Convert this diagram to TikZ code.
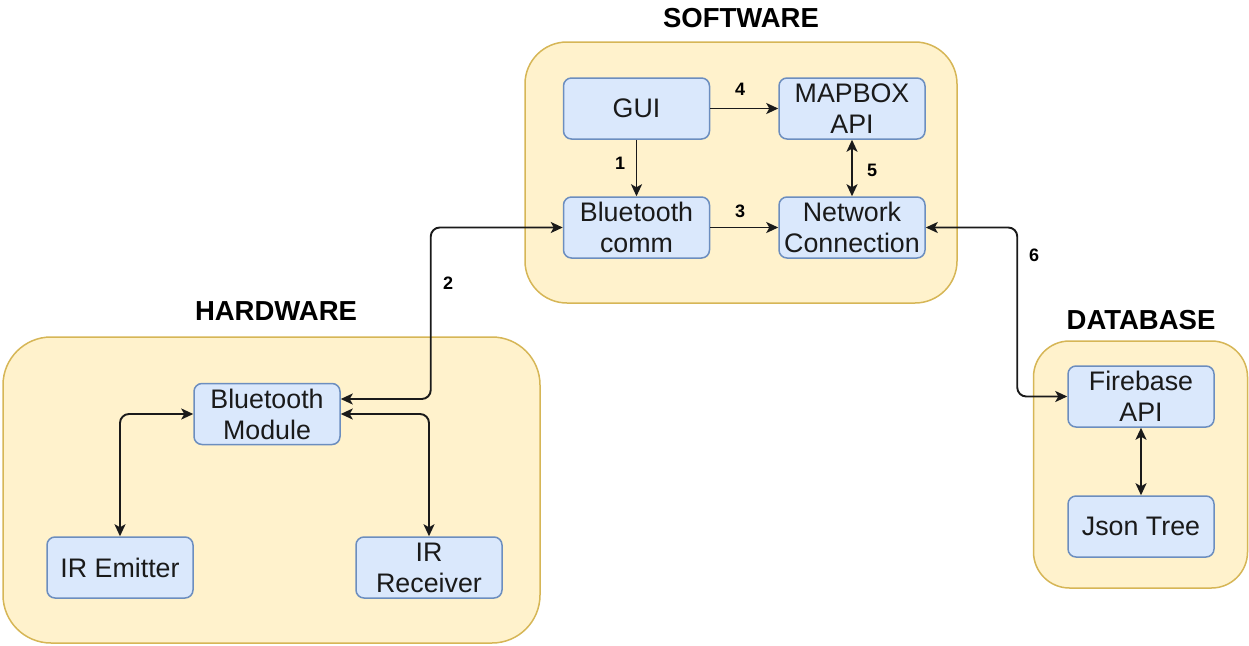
\documentclass[tikz,border=0pt]{standalone}
\usepackage{fontspec}
\setmainfont{Liberation Sans}
\usetikzlibrary{arrows.meta,calc}
\definecolor{groupfill}{HTML}{FFF2CC}
\definecolor{groupline}{HTML}{D6B656}
\definecolor{boxfill}{HTML}{DAE8FC}
\definecolor{boxline}{HTML}{6C8EBF}
\definecolor{ink}{HTML}{1A1A1A}
\tikzset{
  group/.style={draw=groupline, fill=groupfill, line width=1.5pt, rounded corners=42pt, inner sep=0pt},
  block/.style={draw=boxline, fill=boxfill, line width=1.5pt, rounded corners=8pt,
    minimum width=146pt, minimum height=61pt, inner sep=0pt, align=center, text=ink,
    font=\fontsize{26.8}{31}\selectfont},
  grouptitle/.style={font=\fontsize{27.5}{30}\selectfont\bfseries, text=black},
  num/.style={font=\fontsize{18}{20}\selectfont\bfseries, text=black},
  link/.style={draw=ink, line width=1.9pt, rounded corners=9pt, -{Stealth[length=12pt,width=11pt,inset=3pt]}},
  duplex/.style={draw=ink, line width=1.9pt, rounded corners=9pt, {Stealth[length=12pt,width=11pt,inset=3pt]}-{Stealth[length=12pt,width=11pt,inset=3pt]}}
}
\begin{document}
\begin{tikzpicture}[x=1pt,y=-1pt]
\useasboundingbox (0,0) rectangle (1249,645);

% group panels
\node[group, minimum width=432pt, minimum height=261pt] (sw) at (741,172.5) {};
\node[group, minimum width=537pt, minimum height=306pt, rounded corners=48pt] (hw) at (271.5,490) {};
\node[group, minimum width=214pt, minimum height=247pt, rounded corners=36pt] (db) at (1140.5,464.5) {};

% panel titles
\node[grouptitle] (swt) at (741,18) {SOFTWARE};
\node[grouptitle] (hwt) at (276,311) {HARDWARE};
\node[grouptitle] (dbt) at (1141,320) {DATABASE};

% software blocks
\node[block] (gui) at (636.5,108.5) {GUI};
\node[block] (map) at (852,108.5) {MAPBOX\\API};
\node[block] (btc) at (636.5,227.5) {Bluetooth\\comm};
\node[block] (net) at (852,227.5) {Network\\Connection};

% hardware blocks
\node[block] (btm) at (267,414) {Bluetooth\\Module};
\node[block] (emt) at (120,567.5) {IR Emitter};
\node[block] (rcv) at (429,567.5) {IR\\Receiver};

% database blocks
\node[block] (fb) at (1141,396.5) {Firebase\\API};
\node[block] (json) at (1141,526.5) {Json Tree};

% software links
\draw[link] (gui) -- (btc);
\draw[link] (gui) -- (map);
\draw[link] (btc) -- (net);
\draw[duplex] (map) -- (net);

% hardware links
\draw[duplex] ($(btm.east)+(0,-15)$) -| ($(btc.west)+(-132,0)$) -- (btc.west);
\draw[duplex] (btm.west) -| (emt.north);
\draw[duplex] (btm.east) -| (rcv.north);

% database links
\draw[duplex] (net.east) -| ($(fb.west)+(-50,0)$) -- (fb.west);
\draw[duplex] (fb) -- (json);

% link numbers
\node[num] (n1) at (620,163) {1};
\node[num] (n2) at (448,283) {2};
\node[num] (n3) at (740,211) {3};
\node[num] (n4) at (740,89) {4};
\node[num] (n5) at (872,170) {5};
\node[num] (n6) at (1034,255) {6};
\end{tikzpicture}
\end{document}
